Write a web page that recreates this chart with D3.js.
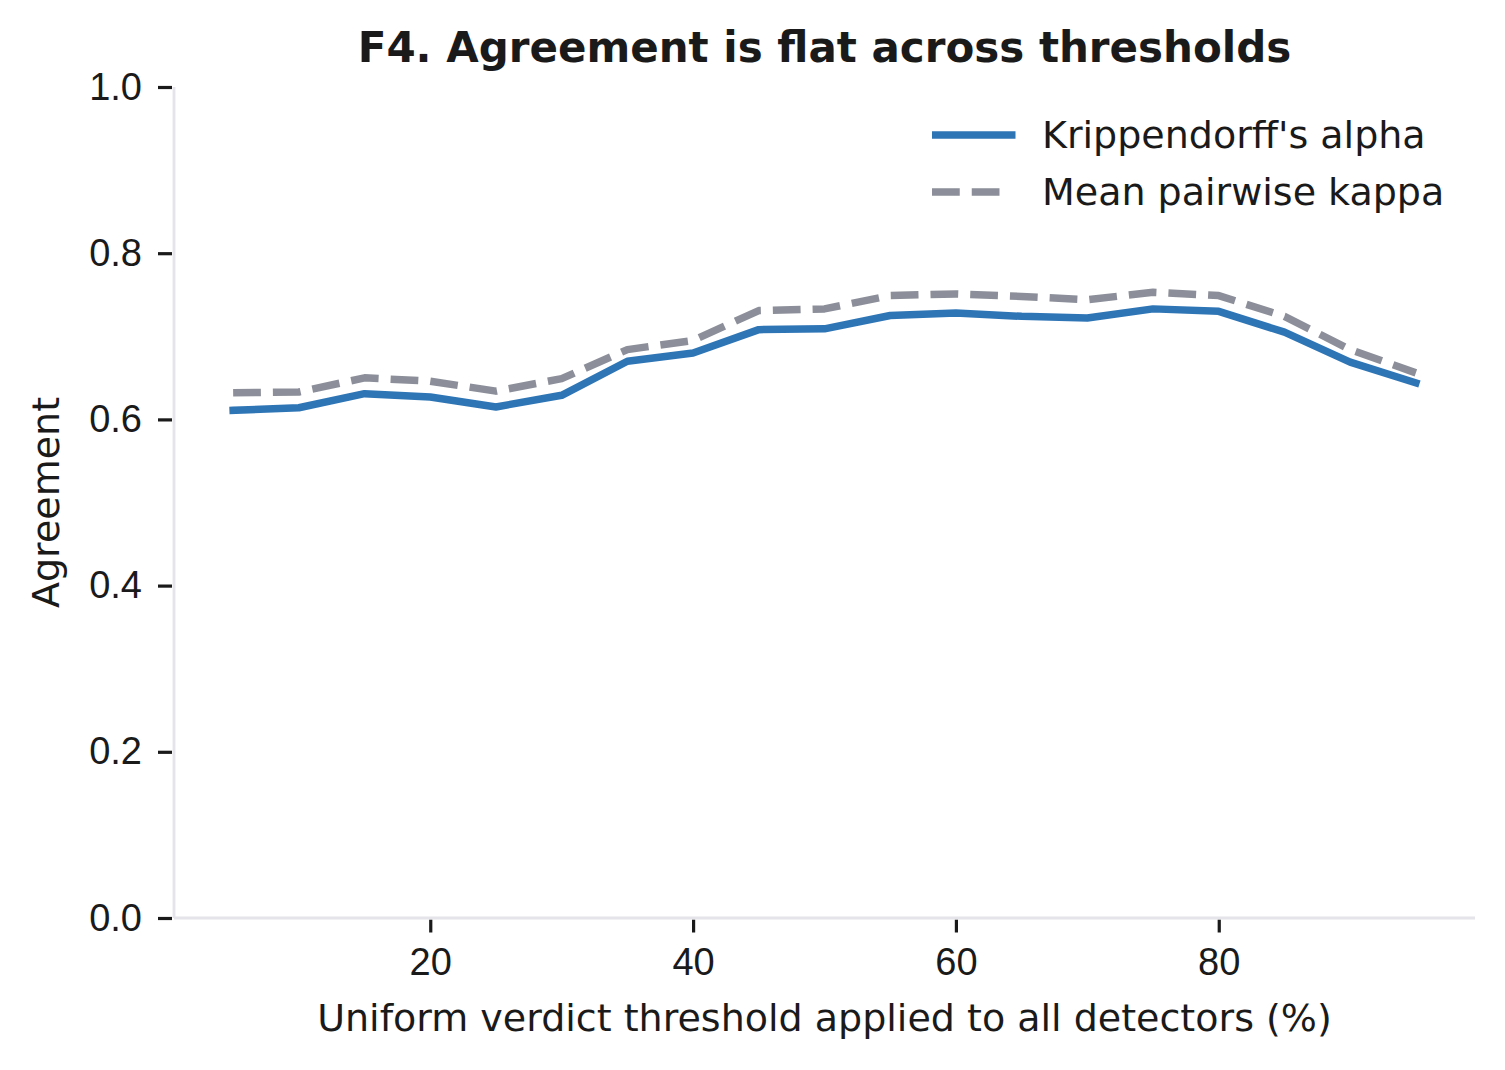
<!DOCTYPE html>
<html>
<head>
<meta charset="utf-8">
<script src="https://cdn.jsdelivr.net/npm/d3@7"></script>
<style>
  body { margin: 0; background: #fff; }
  svg { display: block; font-family: "DejaVu Sans", sans-serif; }
  .tick text { fill: #1a1a1a; }
</style>
</head>
<body>
<div id="chart"></div>
<script>
// thresholds (%) and the two agreement series
const thresholds = [5, 10, 15, 20, 25, 30, 35, 40, 45, 50, 55, 60, 65, 70, 75, 80, 85, 90, 95];
const alphaValues = [0.611, 0.614, 0.631, 0.627, 0.615, 0.629, 0.670, 0.680, 0.708, 0.709, 0.725, 0.728, 0.724, 0.722, 0.733, 0.730, 0.705, 0.669, 0.644];
const kappaValues = [0.632, 0.633, 0.650, 0.646, 0.634, 0.649, 0.684, 0.695, 0.731, 0.733, 0.749, 0.751, 0.748, 0.744, 0.753, 0.749, 0.724, 0.684, 0.656];
const xTicks = [20, 40, 60, 80];
const yTicks = [0, 0.2, 0.4, 0.6, 0.8, 1.0];
const seriesNames = ["Krippendorff's alpha", "Mean pairwise kappa"];

class AgreementChart {

  constructor(_config) {
    this.config = {
      parentElement: _config.parentElement,
      containerWidth: 1505,
      containerHeight: 1070,
      margin: { top: 87, right: 30, bottom: 152, left: 174 },
      lineWidth: 7.5
    };
    this.initVis();
  }

  initVis() {
    let vis = this;
    const m = vis.config.margin;
    vis.width = vis.config.containerWidth - m.left - m.right;
    vis.height = vis.config.containerHeight - m.top - m.bottom;

    vis.svg = d3.select(vis.config.parentElement).append("svg")
        .attr("width", vis.config.containerWidth)
        .attr("height", vis.config.containerHeight);

    vis.chart = vis.svg.append("g")
        .attr("transform", "translate(" + m.left + "," + m.top + ")");

    // 5% padding either side of 5..95, like the original
    vis.xScale = d3.scaleLinear().domain([0.5, 99.5]).range([0, vis.width]);
    vis.yScale = d3.scaleLinear().domain([0, 1]).range([vis.height, 0]);

    const lw = vis.config.lineWidth;
    vis.series = [
      { name: seriesNames[0], values: alphaValues, color: "#2e75b6", dash: null, cap: "square" },
      { name: seriesNames[1], values: kappaValues, color: "#8c8f99", dash: (3.7 * lw) + "," + (1.6 * lw), cap: "butt" }
    ];

    vis.updateVis();
  }

  updateVis() {
    let vis = this;
    const lw = vis.config.lineWidth;

    // Axes
    const xAxis = d3.axisBottom(vis.xScale).tickValues(xTicks).tickFormat(d3.format("d"))
        .tickSize(13).tickPadding(16);
    const yAxis = d3.axisLeft(vis.yScale).tickValues(yTicks).tickFormat(d3.format(".1f"))
        .tickSize(14).tickPadding(16);

    const xg = vis.chart.append("g")
        .attr("transform", "translate(0," + (vis.height + 1.5) + ")")
        .call(xAxis);
    xg.select(".domain").remove();
    xg.selectAll(".tick line").attr("stroke", "#1a1a1a").attr("stroke-width", 3.2);
    xg.selectAll(".tick text").attr("font-size", 38);

    const yg = vis.chart.append("g")
        .attr("transform", "translate(-2,0)")
        .call(yAxis);
    yg.select(".domain").remove();
    yg.selectAll(".tick line").attr("stroke", "#1a1a1a").attr("stroke-width", 3.2);
    yg.selectAll(".tick text").attr("font-size", 38);

    // Spines (left and bottom only)
    vis.chart.append("line")
        .attr("x1", 0).attr("x2", 0).attr("y1", 0).attr("y2", vis.height)
        .attr("stroke", "#e4e4ea").attr("stroke-width", 2.8);
    vis.chart.append("line")
        .attr("x1", 0).attr("x2", vis.width).attr("y1", vis.height).attr("y2", vis.height)
        .attr("stroke", "#e4e4ea").attr("stroke-width", 2.8);

    const line = d3.line()
        .x((d, i) => vis.xScale(thresholds[i]))
        .y(d => vis.yScale(d));

    vis.chart.selectAll(".series")
      .data(vis.series)
      .join("path")
        .attr("class", "series")
        .attr("fill", "none")
        .attr("stroke", d => d.color)
        .attr("stroke-width", lw)
        .attr("stroke-linejoin", "round")
        .attr("stroke-linecap", d => d.cap)
        .attr("stroke-dasharray", d => d.dash)
        .attr("d", d => line(d.values));

    // Title
    vis.svg.append("text")
        .attr("x", vis.config.margin.left + vis.width / 2)
        .attr("y", 62)
        .attr("text-anchor", "middle")
        .attr("font-size", 42)
        .attr("font-weight", "bold")
        .attr("fill", "#1a1a1a")
        .text("F4. Agreement is flat across thresholds");

    // Axis labels
    vis.svg.append("text")
        .attr("x", vis.config.margin.left + vis.width / 2)
        .attr("y", 1031)
        .attr("text-anchor", "middle")
        .attr("font-size", 38)
        .attr("fill", "#1a1a1a")
        .text("Uniform verdict threshold applied to all detectors (%)");

    vis.svg.append("text")
        .attr("transform", "translate(59," + (vis.config.margin.top + vis.height / 2) + ") rotate(-90)")
        .attr("text-anchor", "middle")
        .attr("font-size", 38)
        .attr("fill", "#1a1a1a")
        .text("Agreement");

    // Legend (handle length 76px)
    const legend = vis.svg.append("g")
        .attr("transform", "translate(932,135)");
    const item = legend.selectAll(".legend-item")
      .data(vis.series)
      .join("g")
        .attr("class", "legend-item")
        .attr("transform", (d, i) => "translate(0," + (i * 57) + ")");
    item.append("line")
        .attr("x1", d => d.cap === "square" ? lw / 2 : 0)
        .attr("x2", d => d.cap === "square" ? 76 + lw / 2 : 76)
        .attr("stroke", d => d.color)
        .attr("stroke-width", lw)
        .attr("stroke-linecap", d => d.cap)
        .attr("stroke-dasharray", d => d.dash);
    item.append("text")
        .attr("x", 110)
        .attr("y", 13)
        .attr("font-size", 38)
        .attr("fill", "#1a1a1a")
        .text(d => d.name);
  }
}

const chart = new AgreementChart({ parentElement: "#chart" });
</script>
</body>
</html>
